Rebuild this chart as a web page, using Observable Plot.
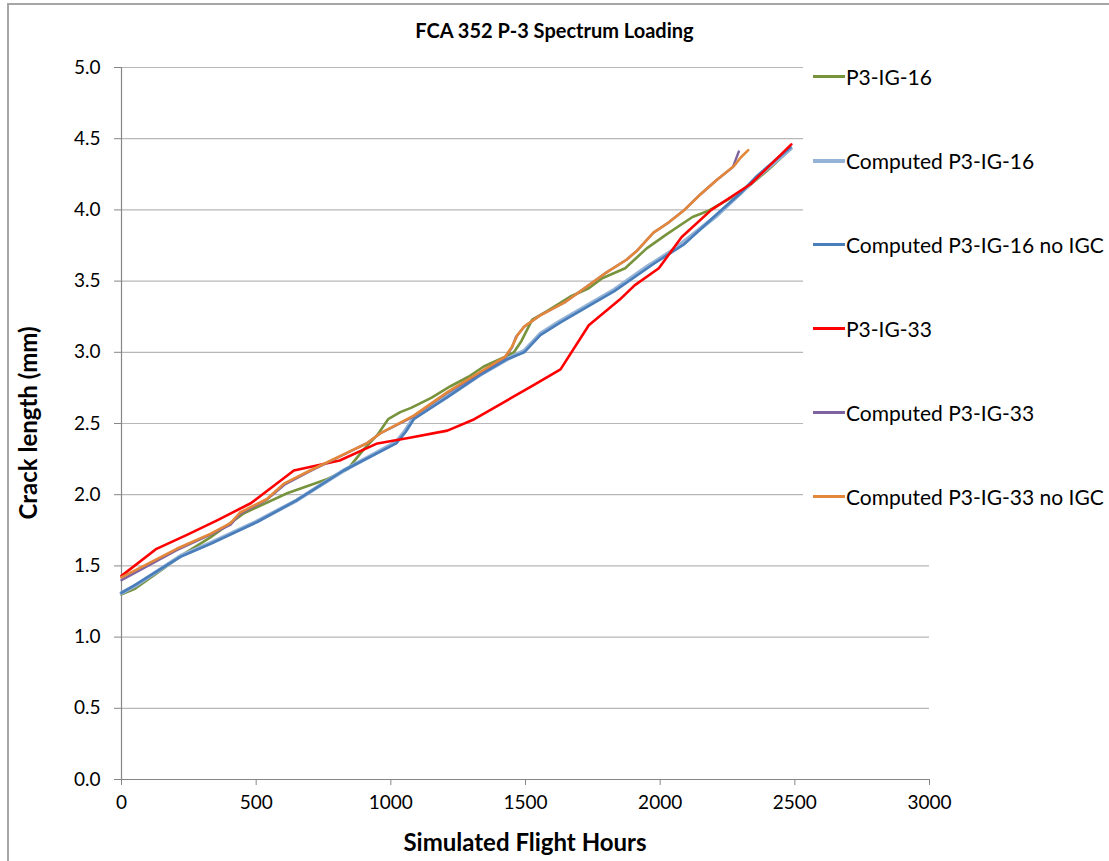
<!DOCTYPE html>
<html>
<head>
<meta charset="utf-8">
<script src="https://cdn.jsdelivr.net/npm/d3@7"></script>
<script src="https://cdn.jsdelivr.net/npm/@observablehq/plot@0.6"></script>
<style>
  html, body { margin: 0; padding: 0; background: #fff; }
  body { width: 1109px; height: 861px; position: relative; overflow: hidden; font-family: Lato, "Open Sans", sans-serif; }
  #frame { position: absolute; left: 7px; top: 3px; width: 1200px; height: 1000px; border-left: 2px solid #a6a6a6; border-top: 2px solid #a6a6a6; box-sizing: border-box; }
  #chart { position: absolute; left: 0; top: 0; }
  .title { position: absolute; top: 18px; left: 0; width: 1109px; text-align: center; font-weight: bold; font-size: 20px; color: #000; }
  .xlabel { position: absolute; top: 827px; left: 121px; width: 808px; text-align: center; font-weight: bold; font-size: 24px; color: #000; }
  .ylabel { position: absolute; left: 27px; top: 423px; transform: translate(-50%, -50%) rotate(-90deg); white-space: nowrap; font-weight: bold; font-size: 24px; color: #000; }
  #legend { position: absolute; left: 803px; top: 52px; width: 306px; height: 462px; background: #fff; }
  .entry { position: absolute; left: 10px; display: flex; align-items: center; font-size: 21px; color: #000; white-space: nowrap; }
  .swatch { width: 32px; margin-right: 1px; }
</style>
</head>
<body>
<div id="frame"></div>
<div id="chart"></div>
<div class="title">FCA 352 P-3 Spectrum Loading</div>
<div class="xlabel">Simulated Flight Hours</div>
<div class="ylabel">Crack length (mm)</div>
<div id="legend"></div>
<script>
// Series names and colours
const seriesNames = ["P3-IG-16", "Computed P3-IG-16", "Computed P3-IG-16 no IGC", "P3-IG-33", "Computed P3-IG-33", "Computed P3-IG-33 no IGC"];
const seriesColors = ["#77933c", "#95b3d7", "#4a7ebb", "#ff0000", "#7f63a1", "#e3873a"];

// [flight hours, crack length mm]
const p3ig16 = [[0,1.30],[50,1.34],[155,1.48],[220,1.57],[330,1.70],[455,1.87],[615,2.01],[765,2.11],[840,2.18],[900,2.32],[950,2.42],[990,2.53],[1035,2.58],[1075,2.61],[1150,2.68],[1220,2.76],[1290,2.83],[1345,2.90],[1425,2.97],[1457,3.00],[1485,3.08],[1525,3.23],[1580,3.29],[1665,3.39],[1735,3.45],[1785,3.52],[1870,3.59],[1950,3.73],[2025,3.83],[2120,3.95],[2175,3.99],[2250,4.07],[2325,4.16],[2400,4.28],[2486,4.43]];
const computed16 = [[0,1.31],[50,1.36],[155,1.49],[220,1.57],[330,1.66],[500,1.81],[650,1.96],[825,2.17],[1020,2.37],[1050,2.44],[1085,2.54],[1210,2.69],[1330,2.84],[1430,2.95],[1495,3.01],[1555,3.13],[1630,3.22],[1830,3.44],[1950,3.60],[2050,3.72],[2210,3.96],[2300,4.12],[2360,4.23],[2484,4.43]];
const computed16NoIGC = [[0,1.31],[45,1.36],[155,1.49],[220,1.565],[330,1.655],[505,1.81],[650,1.96],[825,2.17],[1020,2.36],[1055,2.44],[1085,2.53],[1210,2.685],[1330,2.84],[1430,2.95],[1495,3.00],[1555,3.12],[1630,3.21],[1830,3.43],[1975,3.62],[2090,3.76],[2210,3.97],[2300,4.12],[2360,4.24],[2484,4.44]];
const p3ig33 = [[0,1.43],[130,1.62],[245,1.72],[355,1.82],[480,1.94],[640,2.17],[810,2.24],[950,2.36],[1070,2.40],[1210,2.45],[1310,2.53],[1530,2.77],[1630,2.88],[1735,3.19],[1850,3.37],[1905,3.47],[1995,3.59],[2080,3.81],[2190,4.00],[2335,4.18],[2487,4.46]];
const computed33 = [[0,1.40],[205,1.61],[330,1.72],[405,1.79],[440,1.865],[540,1.965],[605,2.07],[700,2.165],[910,2.36],[960,2.43],[1085,2.55],[1210,2.715],[1330,2.855],[1425,2.965],[1450,3.035],[1465,3.11],[1495,3.18],[1555,3.26],[1645,3.35],[1715,3.445],[1800,3.56],[1875,3.65],[1915,3.715],[1975,3.84],[2030,3.91],[2090,4.00],[2150,4.11],[2210,4.21],[2270,4.30],[2292,4.41]];
const computed33NoIGC = [[0,1.42],[205,1.62],[330,1.725],[405,1.80],[440,1.875],[540,1.97],[605,2.08],[700,2.17],[910,2.36],[960,2.43],[1085,2.555],[1210,2.72],[1330,2.86],[1425,2.97],[1450,3.04],[1470,3.12],[1495,3.18],[1555,3.26],[1645,3.35],[1715,3.445],[1800,3.56],[1875,3.65],[1915,3.715],[1975,3.84],[2030,3.91],[2090,4.00],[2150,4.11],[2210,4.21],[2275,4.31],[2300,4.37],[2327,4.42]];

const xTicks = [0, 500, 1000, 1500, 2000, 2500, 3000];
const yTicks = [0, 0.5, 1.0, 1.5, 2.0, 2.5, 3.0, 3.5, 4.0, 4.5, 5.0];

const allSeries = [p3ig16, computed16, computed16NoIGC, p3ig33, computed33, computed33NoIGC];
const widths = [2.6, 4, 2.6, 2.6, 2.4, 2.6];

const lineMarks = allSeries.map((s, i) =>
  Plot.line(s, {x: d => d[0], y: d => d[1], stroke: seriesColors[i], strokeWidth: widths[i], strokeLinejoin: "round"})
);

const chart = Plot.plot({
  width: 1109,
  height: 861,
  marginLeft: 121,
  marginRight: 180,
  marginTop: 67,
  marginBottom: 82,
  style: {fontFamily: "Lato, 'Open Sans', sans-serif", fontSize: "19px", color: "#000", background: "transparent"},
  x: {domain: [0, 3000]},
  y: {domain: [0, 5]},
  marks: [
    Plot.gridY(yTicks, {stroke: "#b7b7b7", strokeOpacity: 1, strokeWidth: 1.2}),
    Plot.axisX(xTicks, {tickSize: 6, tickPadding: 10, stroke: "#868686", fontSize: 19, label: null, tickFormat: d3.format("d")}),
    Plot.axisY(yTicks, {tickSize: 7, tickPadding: 14, stroke: "#868686", fontSize: 19, label: null, tickFormat: d3.format(".1f")}),
    Plot.ruleX([0], {stroke: "#868686", strokeWidth: 1.2}),
    Plot.ruleY([0], {stroke: "#868686", strokeWidth: 1.2}),
    ...lineMarks
  ]
});
document.getElementById("chart").appendChild(chart);

// Legend
const legend = document.getElementById("legend");
const entryTops = [25, 109, 193, 277, 361, 445];
seriesNames.forEach((name, i) => {
  const e = document.createElement("div");
  e.className = "entry";
  e.style.top = (entryTops[i] - 13) + "px";
  const sw = document.createElement("div");
  sw.className = "swatch";
  sw.style.borderTop = (i === 1 ? 4 : 3) + "px solid " + seriesColors[i];
  e.appendChild(sw);
  const t = document.createElement("span");
  t.textContent = name;
  e.appendChild(t);
  legend.appendChild(e);
});
</script>
</body>
</html>
